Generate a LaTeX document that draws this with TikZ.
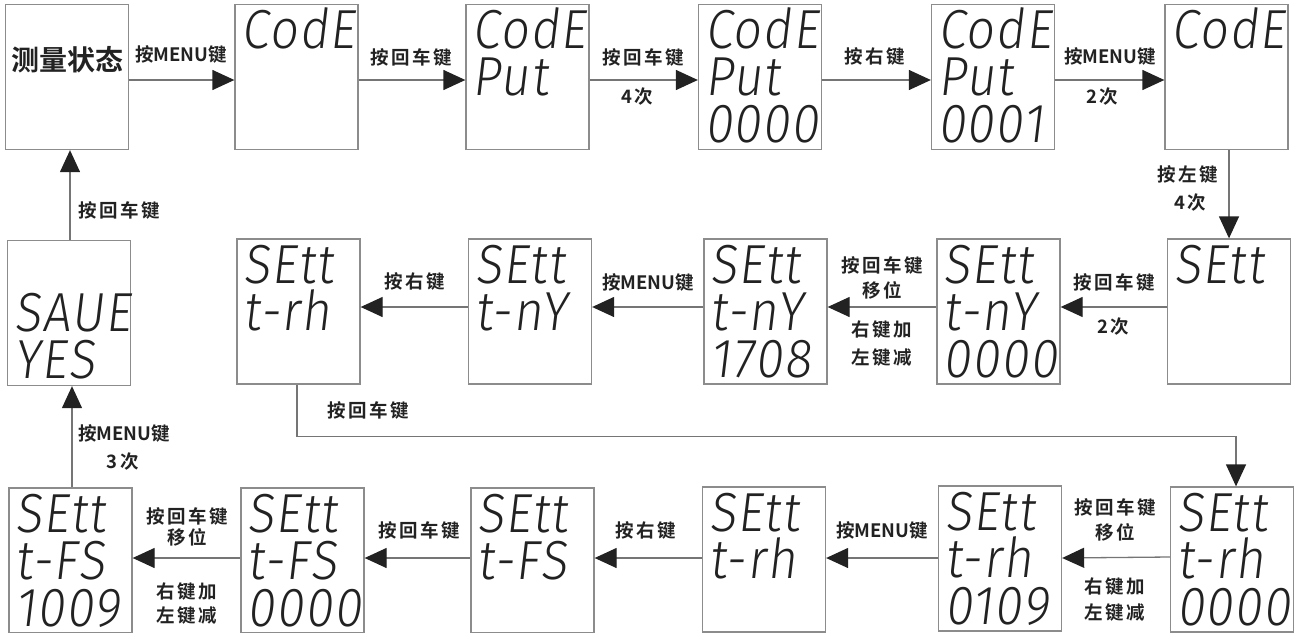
\documentclass[tikz,border=0pt]{standalone}
\usepackage{fontspec}
\newfontfamily\cjk{Noto Sans CJK SC Bold}
\newfontfamily\cjks{Noto Sans CJK SC Bold}[LetterSpace=14]
\newfontfamily\lcdfont{Fira Sans Light}[FakeSlant=0.12,FakeStretch=0.9,LetterSpace=3]
\usetikzlibrary{arrows.meta,calc}
\definecolor{ink}{HTML}{222222}
\definecolor{boxgray}{HTML}{8C8C8C}
\definecolor{linegray}{HTML}{757575}
\tikzset{
  box/.style={draw=boxgray, line width=1.3pt, minimum width=123pt, minimum height=145pt, inner sep=0pt},
  lbl/.style={font=\cjks\fontsize{18.5}{22}\selectfont, text=ink, inner sep=0pt},
  lblm/.style={font=\cjk\fontsize{18.5}{22}\selectfont, text=ink, inner sep=0pt},
  lcd/.style={font=\lcdfont\fontsize{55}{55}\selectfont, anchor=base west, inner sep=0pt, text height=38pt, text depth=0pt, text=ink},
  conn/.style={draw=linegray, line width=1.3pt, -{Triangle[length=22pt,width=20pt,color=ink]}},
}
\newcommand{\lcdlines}[4]{%
  \node[lcd] (#1l1) at ($(#1.north west)+(7,45)$) {#2};
  \node[lcd] (#1l2) at ($(#1.north west)+(7,92)$) {#3};
  \node[lcd] (#1l3) at ($(#1.north west)+(7,139)$) {#4};
}
\begin{document}
\begin{tikzpicture}[x=1pt,y=-1pt]
\useasboundingbox (0,0) rectangle (1297,632);
% row 1
\node[box] (A) at (67,77) {};
\node[box] (B) at (296.5,77) {};
\node[box] (C) at (527.5,77) {};
\node[box] (D) at (760,77) {};
\node[box] (E) at (993,77) {};
\node[box] (F) at (1226.5,77) {};
% row 2
\node[box] (S) at (69,313) {};
\node[box] (Ra) at (298.5,311.5) {};
\node[box] (Rb) at (530,311.5) {};
\node[box] (Rc) at (765.5,311.5) {};
\node[box] (Rd) at (998.5,311.5) {};
\node[box] (Re) at (1229,311.5) {};
% row 3
\node[box] (Ta) at (70.5,560.5) {};
\node[box] (Tb) at (302.5,560.5) {};
\node[box] (Tc) at (532.5,560.5) {};
\node[box] (Td) at (764,559.5) {};
\node[box] (Te) at (1000,558.5) {};
\node[box] (Tf) at (1232,559.5) {};
% texts
\node[font=\cjk\fontsize{28}{30}\selectfont, text=ink, inner sep=0pt] (At) at (67,60) {测量状态};
\lcdlines{B}{CodE}{}{}
\lcdlines{C}{CodE}{Put}{}
\lcdlines{D}{CodE}{Put}{0000}
\lcdlines{E}{CodE}{Put}{0001}
\lcdlines{F}{CodE}{}{}
\lcdlines{S}{}{SAUE}{YES}
\lcdlines{Ra}{SEtt}{t-rh}{}
\lcdlines{Rb}{SEtt}{t-nY}{}
\lcdlines{Rc}{SEtt}{t-nY}{1708}
\lcdlines{Rd}{SEtt}{t-nY}{0000}
\lcdlines{Re}{SEtt}{}{}
\lcdlines{Ta}{SEtt}{t-FS}{1009}
\lcdlines{Tb}{SEtt}{t-FS}{0000}
\lcdlines{Tc}{SEtt}{t-FS}{}
\lcdlines{Td}{SEtt}{t-rh}{}
\lcdlines{Te}{SEtt}{t-rh}{0109}
\lcdlines{Tf}{SEtt}{t-rh}{0000}
% row 1 connectors
\draw[conn] ($(A.east)+(0,3)$) -- ($(B.west)+(0,3)$);
\draw[conn] ($(B.east)+(0,3)$) -- ($(C.west)+(0,3)$);
\draw[conn] ($(C.east)+(0,3)$) -- ($(D.west)+(0,3)$);
\draw[conn] ($(D.east)+(0,3)$) -- ($(E.west)+(0,3)$);
\draw[conn] ($(E.east)+(0,3)$) -- ($(F.west)+(0,3)$);
\draw[conn] (Re.north |- F.south) -- (Re.north);
% row 2 connectors
\draw[conn] ($(Re.west)+(0,-4.5)$) -- ($(Rd.east)+(0,-4.5)$);
\draw[conn] ($(Rd.west)+(0,-4.5)$) -- ($(Rc.east)+(0,-4.5)$);
\draw[conn] ($(Rc.west)+(0,-4.5)$) -- ($(Rb.east)+(0,-4.5)$);
\draw[conn] ($(Rb.west)+(0,-4.5)$) -- ($(Ra.east)+(0,-4.5)$);
\draw[conn] ($(Ra.south)+(-1.5,0)$) -- ++(0,52) -| ($(Tf.north)+(4,0)$);
\draw[conn] ($(S.north)+(1,0)$) -- ($(S.north |- A.south)+(1,0)$);
% row 3 connectors
\draw[conn] ($(Tf.west)+(0,-2.5)$) -- ($(Te.east)+(0,-0.5)$);
\draw[conn] ($(Te.west)+(0,-0.5)$) -- ($(Td.east)+(0,-1.5)$);
\draw[conn] ($(Td.west)+(0,-1.5)$) -- ($(Tc.east)+(0,-2.5)$);
\draw[conn] ($(Tc.west)+(0,-2.5)$) -- ($(Tb.east)+(0,-2.5)$);
\draw[conn] ($(Tb.west)+(0,-2.5)$) -- ($(Ta.east)+(0,-2.5)$);
\draw[conn] ($(Ta.north)+(1.5,0)$) -- ($(Ta.north |- S.south)+(1.5,0)$);
% labels
\node[lblm] (l1) at (181,55) {按MENU键};
\node[lbl] (l2) at (411,57) {按回车键};
\node[lbl] (l3) at (643,57) {按回车键};
\node[lbl] (l3b) at (637,97) {4次};
\node[lbl] (l4) at (875,57) {按右键};
\node[lblm] (l5) at (1110,57) {按MENU键};
\node[lbl] (l5b) at (1102,97) {2次};
\node[lbl] (l6) at (1188,175) {按左键};
\node[lbl] (l6b) at (1190,203) {4次};
\node[lbl] (l7) at (119,210) {按回车键};
\node[lbl] (l8) at (1114,282) {按回车键};
\node[lbl] (l8b) at (1113,327) {2次};
\node[lbl] (l9) at (882,265) {按回车键};
\node[lbl] (l9b) at (882,290) {移位};
\node[lbl] (l9c) at (882,330) {右键加};
\node[lbl] (l9d) at (882,358) {左键减};
\node[lblm] (l10) at (648,283) {按MENU键};
\node[lbl] (l11) at (415,282) {按右键};
\node[lbl] (l12) at (368,410) {按回车键};
\node[lblm] (l13) at (124,433) {按MENU键};
\node[lbl] (l13b) at (123,462) {3次};
\node[lbl] (l14) at (1115,507) {按回车键};
\node[lbl] (l14b) at (1115,532) {移位};
\node[lbl] (l14c) at (1115,587) {右键加};
\node[lbl] (l14d) at (1115,613) {左键减};
\node[lblm] (l15) at (882,530) {按MENU键};
\node[lbl] (l16) at (646,530) {按右键};
\node[lbl] (l17) at (419,530) {按回车键};
\node[lbl] (l18) at (187,516) {按回车键};
\node[lbl] (l18b) at (187,537) {移位};
\node[lbl] (l18c) at (187,592) {右键加};
\node[lbl] (l18d) at (187,616) {左键减};
\end{tikzpicture}
\end{document}
